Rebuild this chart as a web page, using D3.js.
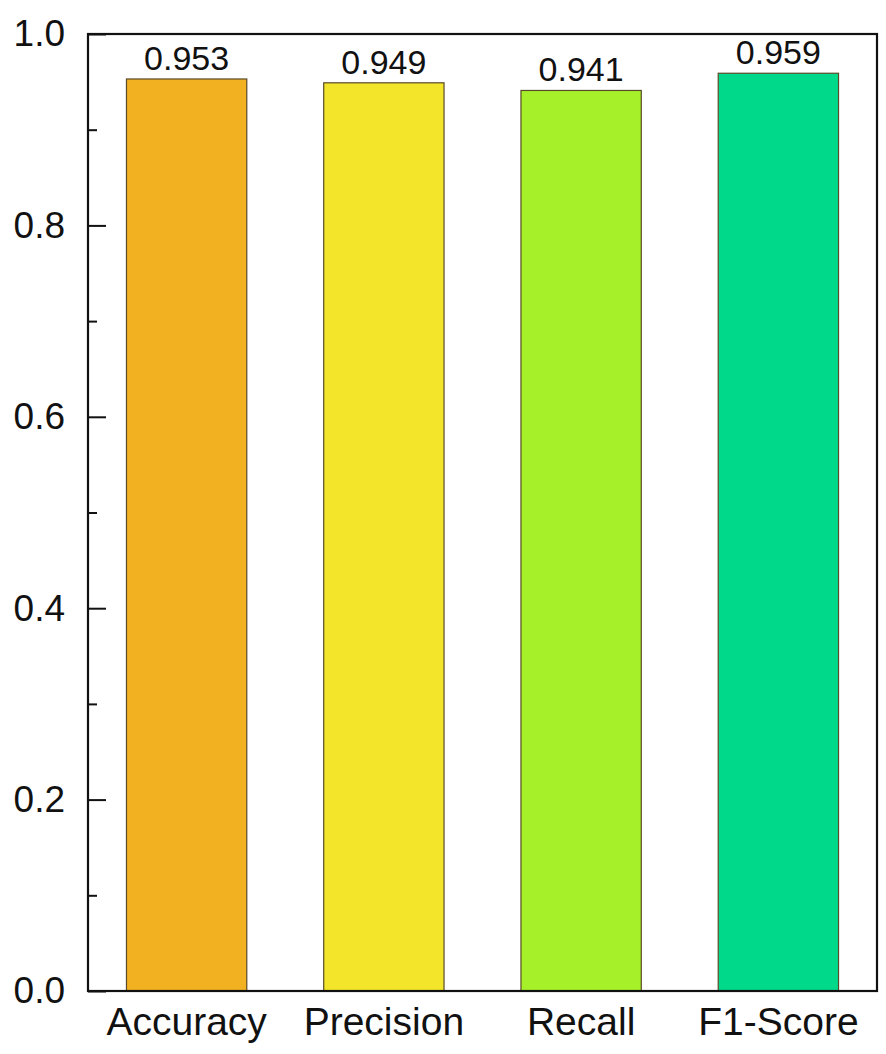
<!DOCTYPE html>
<html>
<head>
<meta charset="utf-8">
<script src="https://cdn.jsdelivr.net/npm/d3@7"></script>
<style>
  body { margin: 0; background: #fff; }
  text { font-family: "Liberation Sans", Arial, sans-serif; fill: #111; }
</style>
</head>
<body>
<script>
var categories = [ "Accuracy", "Precision", "Recall", "F1-Score" ];
var values = [ 0.953, 0.949, 0.941, 0.959 ];
var barColors = [ "#F2B120", "#F2E52A", "#A6F02A", "#00D98A" ];
var yTicks = [ 0.0, 0.2, 0.4, 0.6, 0.8, 1.0 ];
var yMinorTicks = [ 0.1, 0.3, 0.5, 0.7, 0.9 ];

var width = 886, height = 1054;
var plotLeft = 88, plotRight = 877, plotTop = 34, plotBottom = 991;

var svg = d3.select("body").append("svg")//
.attr("width", width)//
.attr("height", height);

var x = d3.scaleBand().domain(categories).range([ plotLeft, plotRight ]).paddingInner(0.39).paddingOuter(0.195);
var y = d3.scaleLinear().domain([ 0, 1 ]).range([ plotBottom, plotTop ]);

// bars
svg.selectAll(".bar").data(categories).enter().append("rect")//
.attr("class", "bar")//
.attr("x", function(d) { return x(d); })//
.attr("width", x.bandwidth())//
.attr("y", function(d, i) { return y(values[i]); })//
.attr("height", function(d, i) { return y(0) - y(values[i]); })//
.attr("fill", function(d, i) { return barColors[i]; })//
.attr("stroke", "#5a4a2a")//
.attr("stroke-width", 1.2);

// value labels
svg.selectAll(".val").data(categories).enter().append("text")//
.attr("class", "val")//
.attr("x", function(d) { return x(d) + x.bandwidth() / 2; })//
.attr("y", function(d, i) { return y(values[i]) - 9; })//
.attr("text-anchor", "middle")//
.attr("font-size", "34px")//
.text(function(d, i) { return values[i].toFixed(3); });

// y axis (ticks inside)
var yAxis = d3.axisLeft(y).tickValues(yTicks).tickSize(-18).tickPadding(23).tickFormat(d3.format(".1f"));
var gy = svg.append("g").attr("transform", "translate(" + plotLeft + ",0)").call(yAxis);
gy.select(".domain").remove();
gy.selectAll("line").attr("stroke", "#111").attr("stroke-width", 2);
gy.selectAll("text").attr("font-size", "37px").attr("font-family", "Liberation Sans, Arial, sans-serif").attr("fill", "#111");

var yMinor = d3.axisLeft(y).tickValues(yMinorTicks).tickSize(-9).tickFormat("");
var gm = svg.append("g").attr("transform", "translate(" + plotLeft + ",0)").call(yMinor);
gm.select(".domain").remove();
gm.selectAll("line").attr("stroke", "#111").attr("stroke-width", 2);

// x axis labels
var xAxis = d3.axisBottom(x).tickSize(0).tickPadding(16);
var gx = svg.append("g").attr("transform", "translate(0," + plotBottom + ")").call(xAxis);
gx.select(".domain").remove();
gx.selectAll("text").attr("font-size", "39px").attr("font-family", "Liberation Sans, Arial, sans-serif").attr("fill", "#111").attr("dy", "0.71em");

// frame
svg.append("rect")//
.attr("x", plotLeft).attr("y", plotTop)//
.attr("width", plotRight - plotLeft).attr("height", plotBottom - plotTop)//
.attr("fill", "none")//
.attr("stroke", "#111")//
.attr("stroke-width", 2.2);
</script>
</body>
</html>
